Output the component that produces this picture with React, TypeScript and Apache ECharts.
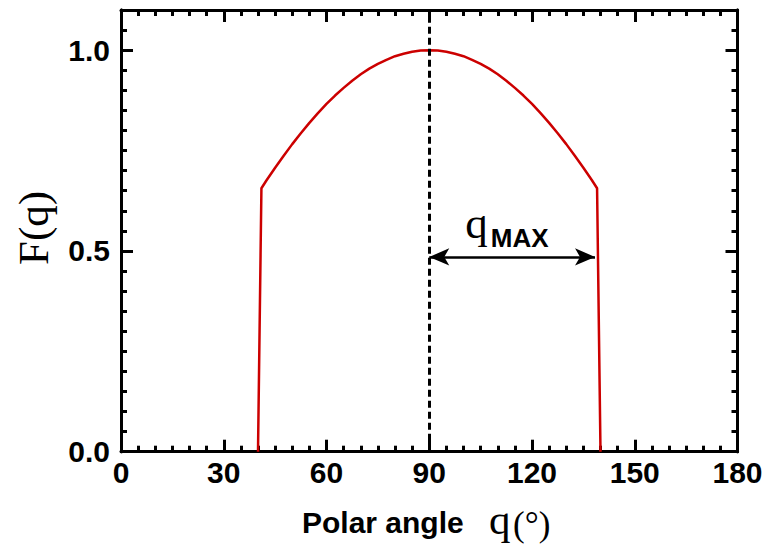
import { useEffect, useRef } from "react";
import * as echarts from "echarts";

// ---- data ----
const xTickValues = [0, 30, 60, 90, 120, 150, 180];
const yTickValues = [0, 0.5, 1.0];
const angleDeg = [
  40, 41, 42.5, 45, 47.5, 50, 52.5, 55, 57.5, 60, 62.5, 65, 67.5, 70, 72.5, 75, 77.5, 80, 82.5, 85, 87.5, 90,
  92.5, 95, 97.5, 100, 102.5, 105, 107.5, 110, 112.5, 115, 117.5, 120, 122.5, 125, 127.5, 130, 132.5, 135, 137.5, 139, 140,
];
const fValues = [
  0, 0.656, 0.676, 0.707, 0.737, 0.766, 0.793, 0.819, 0.843, 0.866, 0.887, 0.906, 0.924, 0.94, 0.954, 0.966, 0.976,
  0.985, 0.991, 0.996, 0.999, 1.0, 0.999, 0.996, 0.991, 0.985, 0.976, 0.966, 0.954, 0.94, 0.924, 0.906, 0.887, 0.866,
  0.843, 0.819, 0.793, 0.766, 0.737, 0.707, 0.676, 0.656, 0,
];
const peakAngle = 90;
const arrowLevel = 0.485;
const arrowEndAngle = 138.4;

export default function App() {
  const ref = useRef<HTMLDivElement>(null);

  useEffect(() => {
    const chart = echarts.init(ref.current!, null, { renderer: "svg" });
    const black = "#000000";
    const sans = "Liberation Sans";
    const serif = "Liberation Serif";
    const labelStyle = { color: black, fontFamily: sans, fontWeight: "bold" as const, fontSize: 30 };

    const xAxisDef = (pos: string, show: boolean) => ({
      type: "value",
      min: 0,
      max: 180,
      interval: 30,
      position: pos,
      axisLine: { onZero: false, lineStyle: { color: black, width: 3 } },
      axisTick: { inside: true, length: 12, lineStyle: { color: black, width: 3 } },
      minorTick: { show: true, splitNumber: 6, length: 6, lineStyle: { color: black, width: 3 } },
      splitLine: { show: false },
      minorSplitLine: { show: false },
      axisLabel: show
        ? { ...labelStyle, margin: 6, formatter: (v: number) => (xTickValues.includes(v) ? String(v) : "") }
        : { show: false },
    });

    const yAxisDef = (pos: string, interval: number, len: number, show: boolean) => ({
      type: "value",
      min: 0,
      max: 1.1,
      interval,
      position: pos,
      axisLine: { onZero: false, lineStyle: { color: black, width: 3 } },
      axisTick: { inside: true, length: len, lineStyle: { color: black, width: 3 } },
      splitLine: { show: false },
      axisLabel: show
        ? {
            ...labelStyle,
            margin: 11,
            formatter: (v: number) => (yTickValues.some((t) => Math.abs(t - v) < 1e-6) ? v.toFixed(1) : ""),
          }
        : { show: false },
    });

    chart.setOption({
      animation: false,
      backgroundColor: "#ffffff",
      grid: { left: 121, top: 10, right: 25.5, bottom: 92.3, containLabel: false, outerBoundsMode: "none" },
      xAxis: [xAxisDef("bottom", true), xAxisDef("top", false)],
      yAxis: [
        yAxisDef("left", 0.5, 12, true),
        yAxisDef("left", 0.05, 6, false),
        yAxisDef("right", 0.5, 12, false),
        yAxisDef("right", 0.05, 6, false),
      ],
      series: [
        {
          type: "line",
          xAxisIndex: 0,
          yAxisIndex: 0,
          data: angleDeg.map((a, i) => [a, fValues[i]]),
          showSymbol: false,
          symbol: "none",
          lineStyle: { color: "#cc0000", width: 2.5 },
          z: 2,
          markLine: {
            silent: true,
            animation: false,
            symbol: ["none", "none"],
            label: { show: false },
            z: 5,
            data: [
              {
                xAxis: peakAngle,
                lineStyle: { color: black, width: 3, type: [7, 4] },
              },
              [
                {
                  coord: [peakAngle, arrowLevel],
                  symbol: "arrow",
                  symbolSize: [13, 20],
                  lineStyle: { color: black, width: 2.5, type: "solid" },
                },
                { coord: [arrowEndAngle, arrowLevel], symbol: "arrow", symbolSize: [13, 20] },
              ],
            ],
          },
        },
      ],
    });

    const p = chart.convertToPixel({ xAxisIndex: 0, yAxisIndex: 0 }, [peakAngle, arrowLevel]) as number[];

    chart.setOption({
      graphic: [
        {
          type: "text",
          x: 33,
          y: 228,
          rotation: Math.PI / 2,
          style: {
            text: "F(q)",
            fontFamily: serif,
            fontSize: 43,
            fill: black,
            align: "center",
            verticalAlign: "middle",
          },
        },
        {
          type: "text",
          x: 302,
          y: 522,
          style: {
            text: "Polar angle",
            fontFamily: sans,
            fontWeight: "bold",
            fontSize: 30,
            fill: black,
            align: "left",
            verticalAlign: "middle",
          },
        },
        {
          type: "text",
          x: 489,
          y: 519,
          style: { text: "q", fontFamily: serif, fontSize: 43, fill: black, align: "left", verticalAlign: "middle" },
        },
        {
          type: "text",
          x: 513,
          y: 524,
          style: { text: "(°)", fontFamily: serif, fontSize: 35, fill: black, align: "left", verticalAlign: "middle" },
        },
        {
          type: "text",
          x: p[0] + 36,
          y: p[1] - 33.7,
          style: { text: "q", fontFamily: serif, fontSize: 45, fill: black, align: "left", verticalAlign: "middle" },
        },
        {
          type: "text",
          x: p[0] + 61.5,
          y: p[1] - 19,
          style: {
            text: "MAX",
            fontFamily: sans,
            fontWeight: "bold",
            fontSize: 26,
            fill: black,
            align: "left",
            verticalAlign: "middle",
          },
        },
      ],
    });

    return () => chart.dispose();
  }, []);

  return (
    <div
      ref={ref}
      style={{ position: "fixed", left: 0, top: 0, width: 763, height: 544, background: "#fff" }}
    />
  );
}
